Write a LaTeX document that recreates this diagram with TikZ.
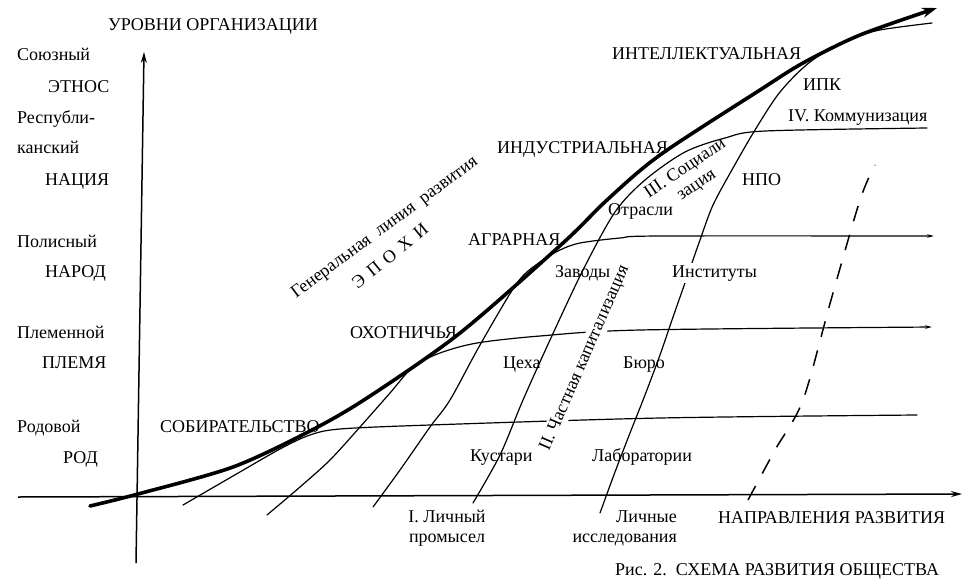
\documentclass[tikz,border=0pt]{standalone}
\usepackage{fontspec}
\setmainfont{Liberation Serif}
\usetikzlibrary{arrows.meta}
\tikzset{
  lbl/.style={font=\fontsize{18}{20}\selectfont, inner sep=0pt},
  cutlbl/.style={lbl, fill=white, inner sep=2pt},
  epochline/.style={line width=3.6pt, line cap=round, -{Stealth[length=15pt, width=10pt]}},
  branch/.style={line width=1.2pt, line cap=round},
  levelend/.style={-{Stealth[length=7pt, width=3.5pt]}},
  axis/.style={line width=1.5pt, -{Stealth[length=11pt, width=6pt]}},
  boundary/.style={line width=1.5pt, dash pattern=on 16pt off 14pt},
}

\begin{document}
\begin{tikzpicture}[x=1pt, y=-1pt]
  \useasboundingbox (0,0) rectangle (972,587);
  \coordinate (ybot) at (136,563);
  \coordinate (ytop) at (144,52);
  \coordinate (xleft) at (18,497);
  \coordinate (xright) at (962,494);
  \draw[axis] (ybot) -- (ytop);
  \draw[axis] (xleft) -- (xright);

  % S-curves of the epochs
  \draw[branch] plot[smooth] coordinates {(183,505) (233,476) (280,449) (310,435) (340,429) (430,425) (660,418) (917,415)};
  \draw[branch, levelend] plot[smooth] coordinates {(267,515) (300,487) (330,460) (360,427) (390,393) (413,367) (440,353) (477,343) (540,336) (640,330) (932,327)};
  \draw[branch, levelend] plot[smooth] coordinates {(373,507) (400,470) (430,427) (450,400) (480,345) (517,283) (540,262) (560,250) (580,243) (620,238) (660,236) (934,236)};
  \draw[branch] plot[smooth] coordinates {(473,503) (500,455) (523,400) (550,340) (583,270) (615,212) (645,180) (685,152) (725,138) (765,131) (927,128)};
  \draw[branch] plot[smooth] coordinates {(600,513) (615,472) (630,433) (645,395) (660,355) (672,320) (686,280) (700,240) (713,205) (733,168) (755,130) (780,92) (810,62) (847,40) (880,30) (932,23)};
  \draw[boundary] plot[smooth] coordinates {(748,500) (775,450) (803,400) (831,300) (860,200) (875,165)};
  \draw[epochline] plot[smooth] coordinates {(90,506) (138,494) (233,467) (310,431) (367,398) (460,333) (563,243) (607,200) (660,155) (760,90) (803,63) (860,35) (937,8)};

  \node[lbl, anchor=base] (levels) at (213,30) {УРОВНИ ОРГАНИЗАЦИИ};
  \foreach \nm/\t/\px/\py in {soyuz/Союзный/17/60, etnos/ЭТНОС/48/92, resp/Республи-/17/123,
                              kansk/канский/17/153, natsiya/НАЦИЯ/45/185, polis/Полисный/17/247,
                              narod/НАРОД/45/277, plemen/Племенной/17/338, plemya/ПЛЕМЯ/42/368,
                              rodov/Родовой/17/432, rod/РОД/63/463}
    { \node[lbl, anchor=base west] (\nm) at (\px,\py) {\t}; }
  \foreach \nm/\t/\px/\py in {sobir/СОБИРАТЕЛЬСТВО/160/432, okhot/ОХОТНИЧЬЯ/350/338, agrar/АГРАРНАЯ/468/245,
                              indus/ИНДУСТРИАЛЬНАЯ/497/153, intel/ИНТЕЛЛЕКТУАЛЬНАЯ/612/59}
    { \node[lbl, anchor=base west] (\nm) at (\px,\py) {\t}; }
  \foreach \nm/\t/\px/\py in {ipk/ИПК/803/90, npo/НПО/742/185, otrasli/Отрасли/608/215, zavody/Заводы/555/277,
                              tsekha/Цеха/503/368, byuro/Бюро/623/368, kustari/Кустари/470/461,
                              labs/Лаборатории/592/461}
    { \node[lbl, anchor=base west] (\nm) at (\px,\py) {\t}; }
  \node[cutlbl, anchor=base west] (instituty) at (670,277) {Институты};
  \node[lbl, anchor=base west] (komm) at (788,121) {IV. Коммунизация};
  \node[lbl, align=center] (promysel) at (447,528.5) {I. Личный\\промысел};
  \node[lbl, align=right, anchor=east] (issled) at (677,528) {Личные\\исследования};
  \node[lbl, rotate=36.5] (genline) at (385,228) {Генеральная~ линия~ развития};
  \node[lbl, rotate=39] (epokhi) at (390,256) {Э\hspace{7pt}П\hspace{7pt}О\hspace{7pt}Х\hspace{7pt}И};
  \node[cutlbl, rotate=66.5] (chastn) at (585,358) {II. Частная капитализация};
  \node[lbl, rotate=34, align=center] (sotsial) at (691,177) {III. Социали\\зация};
  \node[lbl, anchor=base west] (napravl) at (718,523) {НАПРАВЛЕНИЯ РАЗВИТИЯ};
  \node[lbl, anchor=base west] (caption) at (615,575) {Рис. 2.\ \ СХЕМА РАЗВИТИЯ ОБЩЕСТВА};
\end{tikzpicture}
\end{document}
